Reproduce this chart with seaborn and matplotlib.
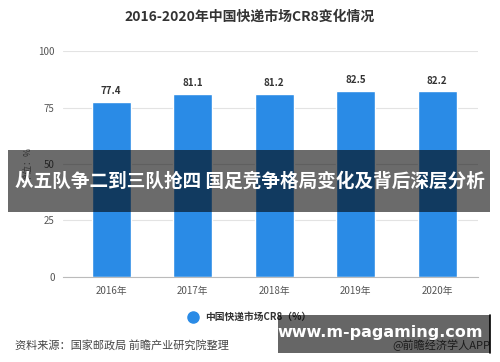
import matplotlib
matplotlib.use("Agg")
import matplotlib.pyplot as plt
import seaborn as sns
import pandas as pd
from matplotlib.patches import Rectangle
from matplotlib.lines import Line2D

years = ["2016年", "2017年", "2018年", "2019年", "2020年"]
cr8 = [77.4, 81.1, 81.2, 82.5, 82.2]
yticks = [0, 25, 50, 75, 100]

sns.set_theme(style="white")
plt.rcParams['font.family'] = ['Noto Sans CJK SC', 'DejaVu Sans']

df = pd.DataFrame({"year": years, "value": cr8})

fig = plt.figure(figsize=(5, 3.62), dpi=100)
ax = fig.add_axes([63 / 500, 0.235, 415 / 500, 0.624])
sns.barplot(data=df, x="year", y="value", color="#2a8be6", width=0.48,
            saturation=1, ax=ax)

ax.set_xlim(-0.59, 4.5)
ax.set_ylim(0, 100)
ax.set_yticks(yticks)
ax.set_yticklabels([str(t) for t in yticks], fontsize=7, color="#555555")
ax.tick_params(axis="x", labelsize=7, colors="#555555", length=3, width=0.6, color="#aaaaaa")
ax.tick_params(axis="y", length=0, pad=6)
for t in yticks:
    ax.axhline(t, color="#e3e3e3", lw=0.8, zorder=0)
for s in ["top", "right", "left"]:
    ax.spines[s].set_visible(False)
ax.spines["bottom"].set_color("#bbbbbb")
ax.spines["bottom"].set_linewidth(0.8)
ax.set_xlabel("")
ax.set_ylabel("单位：%", fontsize=6.5, color="#777777", labelpad=4)

for i, v in enumerate(cr8):
    ax.text(i, v + 2.5, f"{v}", ha="center", va="bottom", fontsize=7,
            fontweight="bold", color="#333333")

fig.text(0.5, 0.953, "2016-2020年中国快递市场CR8变化情况", ha="center", va="center",
         fontsize=10, fontweight="bold", color="#333333")

# legend
fig.lines.append(Line2D([0.385], [1 - 317 / 362], marker="o", markersize=8,
                        color="#2a8be6", transform=fig.transFigure, linestyle="none"))
fig.text(0.41, 1 - 317 / 362, "中国快递市场CR8（%）", ha="left", va="center",
         fontsize=7, fontweight="bold", color="#333333")

fig.text(0.03, 1 - 345 / 362, "资料来源：国家邮政局 前瞻产业研究院整理", ha="left",
         va="center", fontsize=8, color="#444444")
fig.text(0.98, 1 - 345 / 362, "@前瞻经济学人APP", ha="right", va="center",
         fontsize=8, color="#444444")

# overlay banners
fig.patches.append(Rectangle((8 / 500, 1 - 212 / 362), 482 / 500, 62 / 362,
                             transform=fig.transFigure, facecolor="black",
                             alpha=0.58, edgecolor="none", zorder=5))
fig.text(0.5, 1 - 181 / 362, "从五队争二到三队抢四 国足竞争格局变化及背后深层分析",
         ha="center", va="center", fontsize=13.4, fontweight="bold", color="white",
         zorder=6)
fig.patches.append(Rectangle((278 / 500, 1 - 353 / 362), 212 / 500, 38 / 362,
                             transform=fig.transFigure, facecolor="black",
                             alpha=0.6, edgecolor="none", zorder=5))
fig.lines.append(Line2D([490 / 500, 490 / 500], [1 - 353 / 362, 1 - 315 / 362],
                        color="black", lw=1.2, transform=fig.transFigure, zorder=6))
fig.text(0.76, 1 - 333 / 362, "www.m-pagaming.com", ha="center", va="center",
         fontsize=11.5, fontweight="bold", color="white", family="DejaVu Sans",
         zorder=6)

fig.savefig("out.png", dpi=100)
